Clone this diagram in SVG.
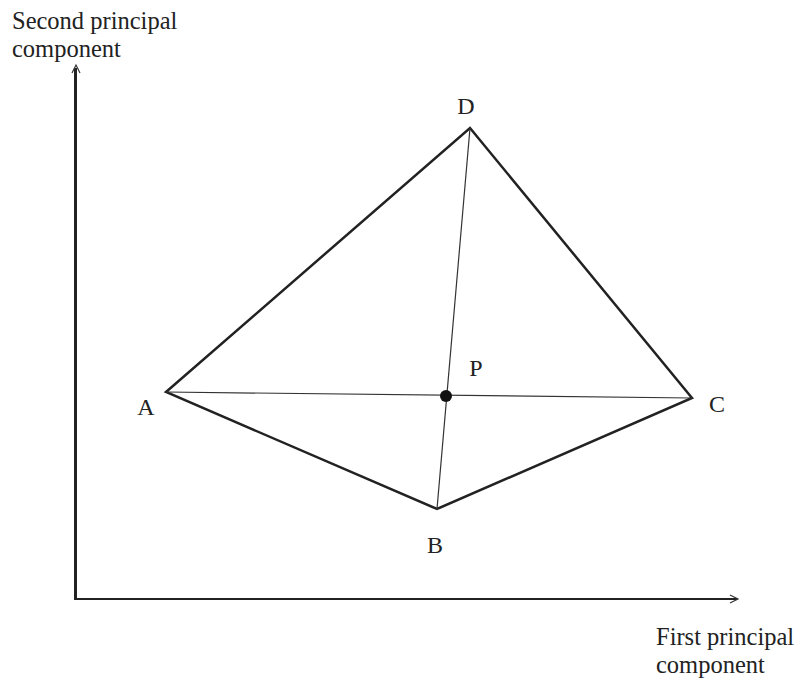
<svg xmlns="http://www.w3.org/2000/svg" width="804" height="684" viewBox="0 0 804 684">
<style>
text{font-family:'Liberation Serif','DejaVu Serif',serif;font-size:24px;fill:#222}
.lbl{font-size:24.5px}
.edge{stroke:#222;stroke-width:2.5;fill:none;stroke-linejoin:miter}
.thin{stroke:#333;stroke-width:1.2;fill:none}
.axis{stroke:#222;fill:none}
.head{stroke:#333;stroke-width:1.2;fill:none}
</style>
<rect width="804" height="684" fill="#fff"/>
<g id="axes">
<line class="axis" x1="75.5" y1="68" x2="75.5" y2="600" stroke-width="3"/>
<line class="axis" x1="74" y1="599" x2="737" y2="599" stroke-width="2"/>
<polyline class="head" points="72,73 76,65 80,73"/>
<polyline class="head" points="730,595 738,599 730,603"/>
<text class="lbl"><tspan x="12" y="29">Second principal</tspan><tspan x="12" y="56.5">component</tspan></text>
<text class="lbl"><tspan x="656" y="645">First principal</tspan><tspan x="656" y="672.5">component</tspan></text>
</g>
<g id="connectors">
<polygon class="edge" points="166,392 470,128 692,398 437,509"/>
<line class="thin" x1="166" y1="392" x2="692" y2="398"/>
<line class="thin" x1="470" y1="128" x2="437" y2="509"/>
</g>
<g id="node-A"><text x="146" y="415" text-anchor="middle">A</text></g>
<g id="node-B"><text x="435" y="553" text-anchor="middle">B</text></g>
<g id="node-C"><text x="717" y="412" text-anchor="middle">C</text></g>
<g id="node-D"><text x="466" y="114" text-anchor="middle">D</text></g>
<g id="node-P">
<circle cx="446" cy="396" r="6" fill="#111"/>
<text x="476" y="376" text-anchor="middle">P</text>
</g>
</svg>
